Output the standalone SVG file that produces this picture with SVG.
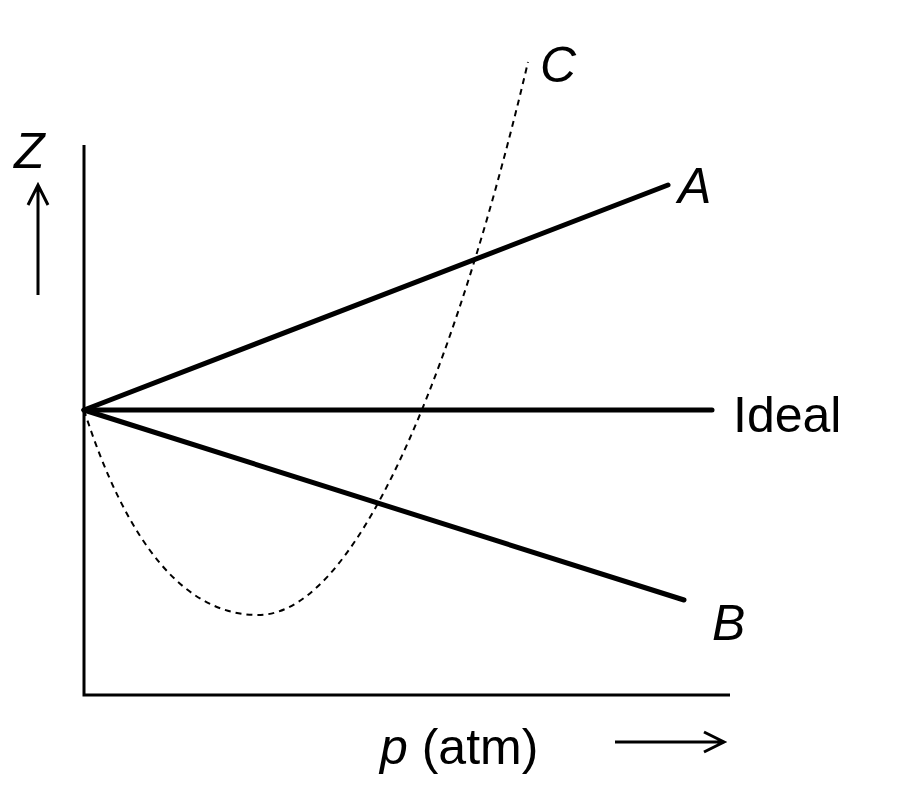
<svg xmlns="http://www.w3.org/2000/svg" width="900" height="796" viewBox="0 0 900 796">
<style>
.ax{stroke:#000;stroke-width:3;fill:none}
.ln{stroke:#000;stroke-width:5;fill:none;stroke-linecap:round}
.t{font-family:"Liberation Sans",Arial,sans-serif;font-size:50px;fill:#000}
.i{font-style:italic}
</style>
<rect width="900" height="796" fill="#fff"/>
<g id="axes">
<path class="ax" d="M84,145 V695 H730"/>
</g>
<g id="connectors">
<path class="ln" d="M84,410 L668,185"/>
<path class="ln" d="M84,410 L712,410"/>
<path class="ln" d="M84,410 L684,600"/>
<path d="M84,410 Q150,615 258,615 C365,615 465,330 528,62" stroke="#000" stroke-width="2" stroke-dasharray="6,5" fill="none"/>
<path class="ax" d="M38,295 V188 M28,205 L38,185 L48,205"/>
<path class="ax" d="M615,742 H722 M704,732 L724,742 L704,752"/>
</g>
<g id="labels">
<text class="t i" x="540" y="82">C</text>
<text class="t i" x="678" y="203">A</text>
<text class="t" x="733" y="432">Ideal</text>
<text class="t i" x="712" y="640">B</text>
<text class="t i" x="14" y="168">Z</text>
<text class="t" x="380" y="764"><tspan class="i">p</tspan> (atm)</text>
</g>
</svg>
